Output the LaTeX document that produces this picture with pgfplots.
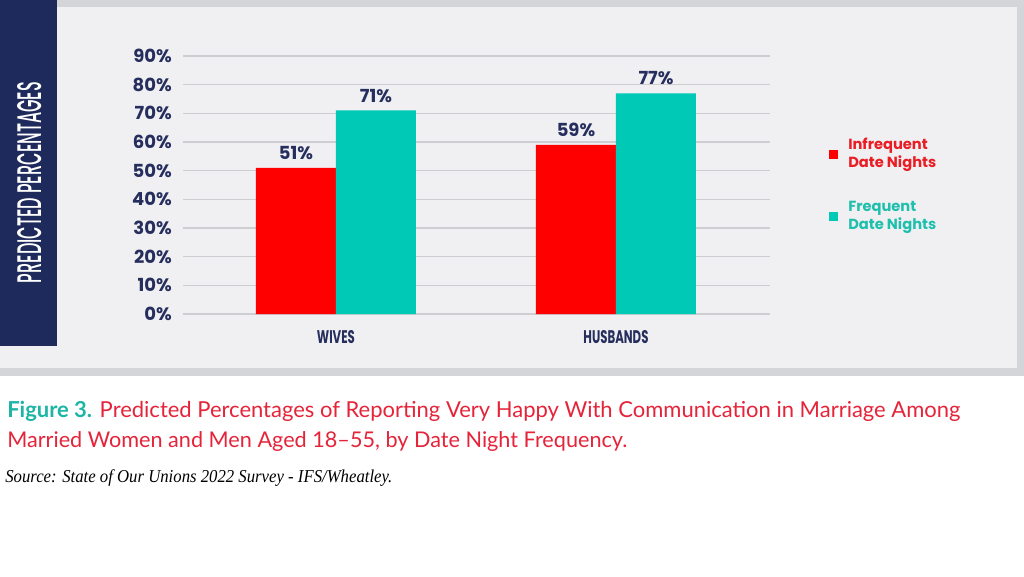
\documentclass[border=0pt]{standalone}
\usepackage{pgfplots}
\pgfplotsset{compat=1.18}
\usepackage{fontspec}
\setmainfont{Poppins}
\newfontfamily\medfont{Poppins Medium}
\newfontfamily\capfont{Lato}
\newfontfamily\srcfont{Liberation Serif}
\definecolor{bordergray}{HTML}{D3D5D8}
\definecolor{panelgray}{HTML}{F0F0F2}
\definecolor{navybar}{HTML}{1E2A5C}
\definecolor{navytext}{HTML}{262E5E}
\definecolor{barred}{HTML}{FF0000}
\definecolor{barteal}{HTML}{00C9B5}
\definecolor{legred}{HTML}{EA1C24}
\definecolor{legteal}{HTML}{1FBFAE}
\definecolor{capred}{HTML}{E5243A}
\definecolor{capteal}{HTML}{1DB5A6}
\definecolor{gridc}{HTML}{CDCDD2}
\begin{document}
\begin{tikzpicture}
\begin{scope}[x=0.75pt,y=-0.75pt]
\fill[white] (0,0) rectangle (1024,576);
\fill[bordergray] (0,0) rectangle (1024,376);
\fill[panelgray] (0,7) rectangle (1017,368);
\fill[navybar] (0,0) rectangle (57,346);
\node[rotate=90, text=white, inner sep=0pt] at (30,182.5) {\resizebox{150.75pt}{18pt}{\medfont PREDICTED PERCENTAGES}};
\node[anchor=base west, inner sep=0pt] at (7,417) {\resizebox{714.75pt}{!}{\capfont\fontsize{16}{19}\selectfont\textcolor{capteal}{\bfseries Figure 3.} \textcolor{capred}{Predicted Percentages of Reporting Very Happy With Communication in Marriage Among}}};
\node[anchor=base west, inner sep=0pt] at (7,447) {\resizebox{465pt}{!}{\capfont\fontsize{16}{19}\selectfont\textcolor{capred}{Married Women and Men Aged 18–55, by Date Night Frequency.}}};
\node[anchor=base west, inner sep=0pt, text=black] at (5,482) {\resizebox{290.25pt}{9.6pt}{\srcfont\itshape Source: State of Our Unions 2022 Survey - IFS/Wheatley.}};
\end{scope}
\begin{axis}[
  scale only axis,
  width=440.25pt, height=193.5pt,
  at={(137.25pt,-235.5pt)}, anchor=south west,
  ybar=0pt, bar width=60pt,
  xmin=-0.546, xmax=1.55, ymin=0, ymax=90,
  xtick={0,1},
  xticklabels={{\resizebox{28.5pt}{9.75pt}{\bfseries WIVES}},{\resizebox{48.75pt}{9.75pt}{\bfseries HUSBANDS}}},
  ytick={0,10,...,90},
  yticklabel={\pgfmathprintnumber{\tick}\%},
  /pgf/number format/assume math mode=true,
  axis line style={draw=none},
  major tick length=0pt,
  ymajorgrids,
  grid style={color=gridc, line width=1.1pt},
  every y tick label/.append style={inner sep=0pt, xshift=-8.25pt, font=\bfseries\fontsize{13.5}{16}\selectfont, text=navytext},
  every x tick label/.append style={inner sep=0pt, yshift=-12pt, text=navytext},
  nodes near coords={\pgfmathprintnumber{\pgfplotspointmeta}\%},
  nodes near coords style={font=\bfseries\fontsize{13.5}{16}\selectfont, text=navytext, anchor=south, inner sep=0pt, yshift=6pt},
  legend image code/.code={\fill[#1] (0pt,-7.4pt) rectangle (6.75pt,-0.65pt);},
  legend style={at={(1.1005,0.686)}, anchor=north west, draw=none, fill=none, inner sep=0pt,
    nodes={inner sep=0pt, font=\bfseries\fontsize{11}{13.5}\selectfont},
    /tikz/column sep=7.5pt, /tikz/row sep=28.5pt},
  legend cell align=left,
]
\addplot[fill=barred, draw=none] coordinates {(0,51) (1,59)};
\addlegendentry{\textcolor{legred}{\begin{tabular}{@{}l@{}}Infrequent\\Date Nights\end{tabular}}}
\addplot[fill=barteal, draw=none] coordinates {(0,71) (1,77)};
\addlegendentry{\textcolor{legteal}{\begin{tabular}{@{}l@{}}Frequent\\Date Nights\end{tabular}}}
\end{axis}
\end{tikzpicture}
\end{document}
